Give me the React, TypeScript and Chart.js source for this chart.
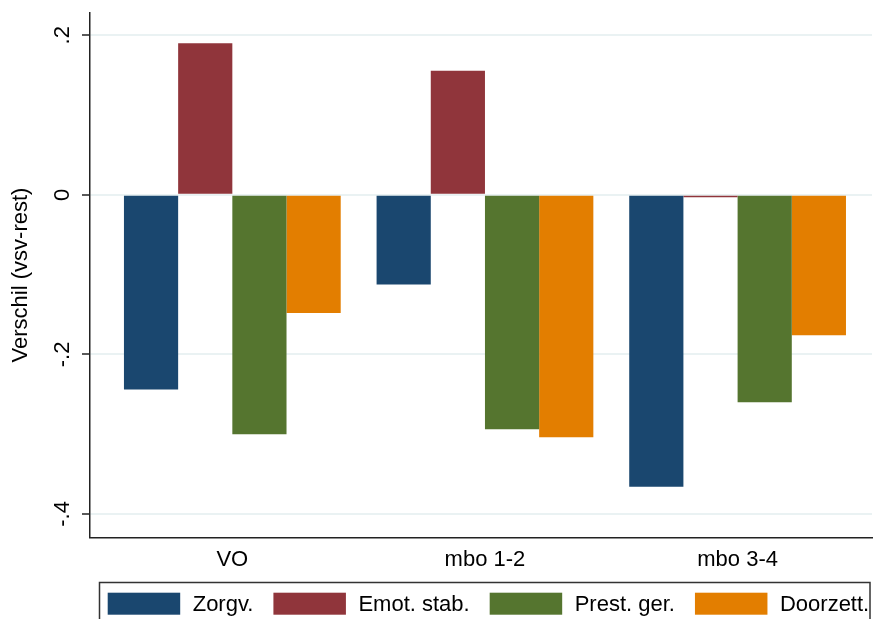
import React, { useEffect, useRef } from "react";
import { Chart, registerables } from "chart.js";

Chart.register(...registerables);

const categories = ["VO", "mbo 1-2", "mbo 3-4"];
const seriesNames = ["Zorgv.", "Emot. stab.", "Prest. ger.", "Doorzett."];
const zorgv = [-0.244, -0.1125, -0.366];
const emotStab = [0.19, 0.1555, -0.003];
const prestGer = [-0.3, -0.294, -0.26];
const doorzett = [-0.148, -0.304, -0.176];
const yTicks = [-0.4, -0.2, 0, 0.2];
const colors = ["#1a476f", "#90353b", "#55752f", "#e37e00"];

const FONT = "'Liberation Sans', Arial, sans-serif";

const fmt = (v: number) => (v === 0 ? "0" : String(v).replace("0.", "."));

const legendPlugin = {
  id: "boxLegend",
  afterDraw(chart: any) {
    const ctx = chart.ctx as CanvasRenderingContext2D;
    const bx = 99.5, by = 582.5, bw = 770.5, bh = 60;
    ctx.save();
    ctx.beginPath();
    ctx.rect(bx, by, bw + 2, bh);
    ctx.clip();
    ctx.font = `22px ${FONT}`;
    ctx.textBaseline = "middle";
    ctx.textAlign = "left";
    let x = 107.7;
    const sw = 72.5, sh = 22, sy = 592.7, textGap = 12.5, itemGap = 20;
    chart.data.datasets.forEach((ds: any) => {
      ctx.fillStyle = ds.backgroundColor;
      ctx.fillRect(x, sy, sw, sh);
      x += sw + textGap;
      ctx.fillStyle = "#000";
      ctx.fillText(ds.label, x, sy + sh / 2 + 1);
      x += ctx.measureText(ds.label).width + itemGap;
    });
    ctx.restore();
    ctx.save();
    ctx.strokeStyle = "#333";
    ctx.lineWidth = 1.5;
    ctx.strokeRect(bx, by, bw, bh);
    ctx.restore();
  },
};

export default function App() {
  const ref = useRef<HTMLCanvasElement | null>(null);
  useEffect(() => {
    if (!ref.current) return;
    Chart.defaults.font.family = FONT;
    const series = [zorgv, emotStab, prestGer, doorzett];
    const chart = new Chart(ref.current, {
      type: "bar",
      data: {
        datasets: series.map((vals, i) => ({
          label: seriesNames[i],
          data: vals.map((v, j) => ({ x: j + 1, y: v })),
          backgroundColor: colors[i],
          borderWidth: 0,
          categoryPercentage: 0.858,
          barPercentage: 1,
        })),
      },
      options: {
        animation: false,
        responsive: false,
        devicePixelRatio: 1,
        layout: { padding: { top: 12.7, right: 1, bottom: 0, left: 0 } },
        plugins: { legend: { display: false }, tooltip: { enabled: false } },
        scales: {
          x: {
            type: "linear",
            offset: false,
            min: 0.4366,
            max: 3.532,
            afterBuildTicks: (axis: any) => {
              axis.ticks = categories.map((_, i) => ({ value: i + 1 }));
            },
            afterFit: (scale: any) => {
              scale.height = 619 - 537.3;
              scale.paddingLeft = 0;
              scale.paddingRight = 0;
            },
            grid: { display: false, drawTicks: false, tickLength: 0, offset: false },
            border: { display: true, color: "#222", width: 1.5 },
            ticks: {
              autoSkip: false,
              maxRotation: 0,
              minRotation: 0,
              padding: 9.5,
              color: "#000",
              font: { size: 22 },
              callback: (v: any) => categories[Math.round(Number(v)) - 1] ?? "",
            },
          },
          y: {
            type: "linear",
            min: -0.4293,
            max: 0.2283,
            afterBuildTicks: (axis: any) => {
              axis.ticks = yTicks.map((v) => ({ value: v }));
            },
            afterFit: (scale: any) => {
              scale.width = 90;
              scale.paddingTop = 0;
              scale.paddingBottom = 0;
            },
            grid: {
              color: "#eaf2f3",
              lineWidth: 2,
              drawTicks: true,
              tickLength: 8,
              tickColor: "#222",
              tickWidth: 1.5,
            },
            border: { display: true, color: "#222", width: 1.5 },
            ticks: {
              minRotation: 90,
              maxRotation: 90,
              crossAlign: "center",
              padding: 6,
              color: "#000",
              font: { size: 22 },
              callback: (v: any) => fmt(Number(v)),
            },
            title: {
              display: true,
              text: "Verschil (vsv-rest)",
              color: "#000",
              font: { size: 22 },
              padding: { top: 8, bottom: 0 },
            },
          },
        },
      },
      plugins: [legendPlugin],
    } as any);
    return () => chart.destroy();
  }, []);
  return (
    <div style={{ position: "absolute", left: 0, top: 0, width: 873, height: 619, overflow: "hidden", background: "#fff" }}>
      <canvas ref={ref} width={873} height={619} style={{ width: 873, height: 619, display: "block" }} />
    </div>
  );
}
